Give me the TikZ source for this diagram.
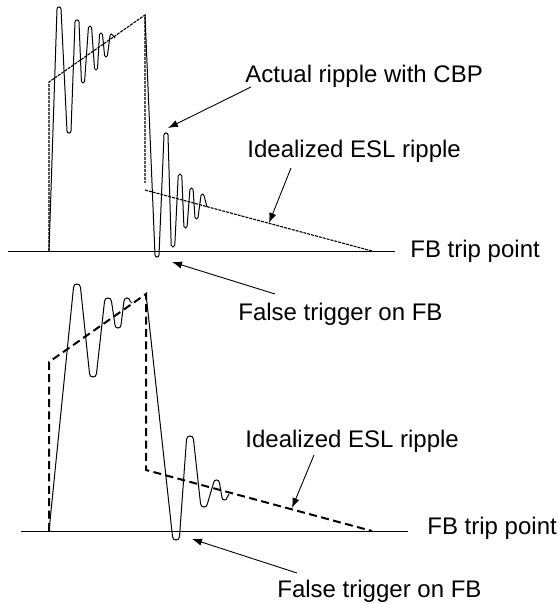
\documentclass[tikz,border=0pt]{standalone}
\usepackage{fontspec}
\setmainfont{Liberation Sans}
\usetikzlibrary{arrows.meta}
% narrow rounded tips of the ringing: x, y of the tip, half width
\newcommand\wpk[3]{--({#1-#3},{#2+#3}) .. controls ({#1-#3},{#2-#3/3}) and ({#1+#3},{#2-#3/3}) .. ({#1+#3},{#2+#3})}
\newcommand\wtr[3]{--({#1-#3},{#2-#3}) .. controls ({#1-#3},{#2+#3/3}) and ({#1+#3},{#2+#3/3}) .. ({#1+#3},{#2-#3})}
\tikzset{
lbl/.style={anchor=base west,inner sep=0pt,font=\fontsize{12}{14}\selectfont},
ptr/.style={-{Latex[length=5pt,width=3.6pt]},line width=.45pt},
wave/.style={line width=.5pt},
idealthin/.style={line width=.55pt,dash pattern=on 1.5pt off .5pt},
idealthick/.style={line width=1pt,dash pattern=on 4pt off 2.2pt}}
\begin{document}
\begin{tikzpicture}[x=.5pt,y=-.5pt]
\useasboundingbox(0,0)rectangle(557,604);
% upper trace, with CBP
\draw[line width=.5pt](8,251)--(395,251);
\draw[idealthin](49,251)--(49,82)--(145,15)--(145,183);
\draw[idealthin](145,190)--(372,251);
\draw[wave](49,251)\wpk{59}{7}{2}\wtr{69}{133}{2}\wpk{77}{20}{2}\wtr{83}{83}{1.6}\wpk{90}{26}{1.6}
\wtr{96}{70}{1.5}\wpk{101}{33}{1.5}\wtr{106}{57}{1.4}\wpk{111.5}{34}{1.4}--(115,38);
\draw[wave](145,15)\wtr{157}{257}{2}\wpk{166}{133}{2}\wtr{173}{247}{1.8}\wpk{180}{174}{1.8}
\wtr{185.5}{228}{1.6}\wpk{191.5}{188}{1.6}\wtr{196.5}{219}{1.5}\wpk{202.5}{194}{1.5}--(207,207);
\node[lbl](actual)at(245,83){Actual ripple with CBP};
\node[lbl](ideal1)at(247,158){Idealized ESL ripple};
\node[lbl](trip1)at(410,257){FB trip point};
\node[lbl](false1)at(238,320){False trigger on FB};
\coordinate(actualtail)at(251,87);\coordinate(actualtip)at(168,128);
\coordinate(ideal1tail)at(291,168);\coordinate(ideal1tip)at(269,223);
\coordinate(false1tail)at(275,294);\coordinate(false1tip)at(172,262);
\draw[ptr](actualtail)--(actualtip);
\draw[ptr](ideal1tail)--(ideal1tip);
\draw[ptr](false1tail)--(false1tip);
% lower trace
\draw[line width=.5pt](21,531)--(408,531);
\draw[idealthick](49,531)--(49,362)--(146,294)--(146,470)--(372,531);
\draw[wave](49,531)\wpk{77}{284}{3.5}\wtr{93}{377}{3.5}\wpk{108}{298}{3.5}\wtr{118}{328}{3}
\wpk{127}{298}{3}--(132,303);
\draw[wave](146,294)\wtr{176}{540}{3.5}\wpk{190}{436}{3.5}\wtr{204}{507}{3.5}\wpk{216.5}{480}{3}
\wtr{224.5}{500}{2.5}--(229,494);
\node[lbl](ideal2)at(245,447){Idealized ESL ripple};
\node[lbl](trip2)at(427,534){FB trip point};
\node[lbl](false2)at(277,597){False trigger on FB};
\coordinate(ideal2tail)at(314,455);\coordinate(ideal2tip)at(292,508);
\coordinate(false2tail)at(297,573);\coordinate(false2tip)at(192,539);
\draw[ptr](ideal2tail)--(ideal2tip);
\draw[ptr](false2tail)--(false2tip);
\end{tikzpicture}
\end{document}
